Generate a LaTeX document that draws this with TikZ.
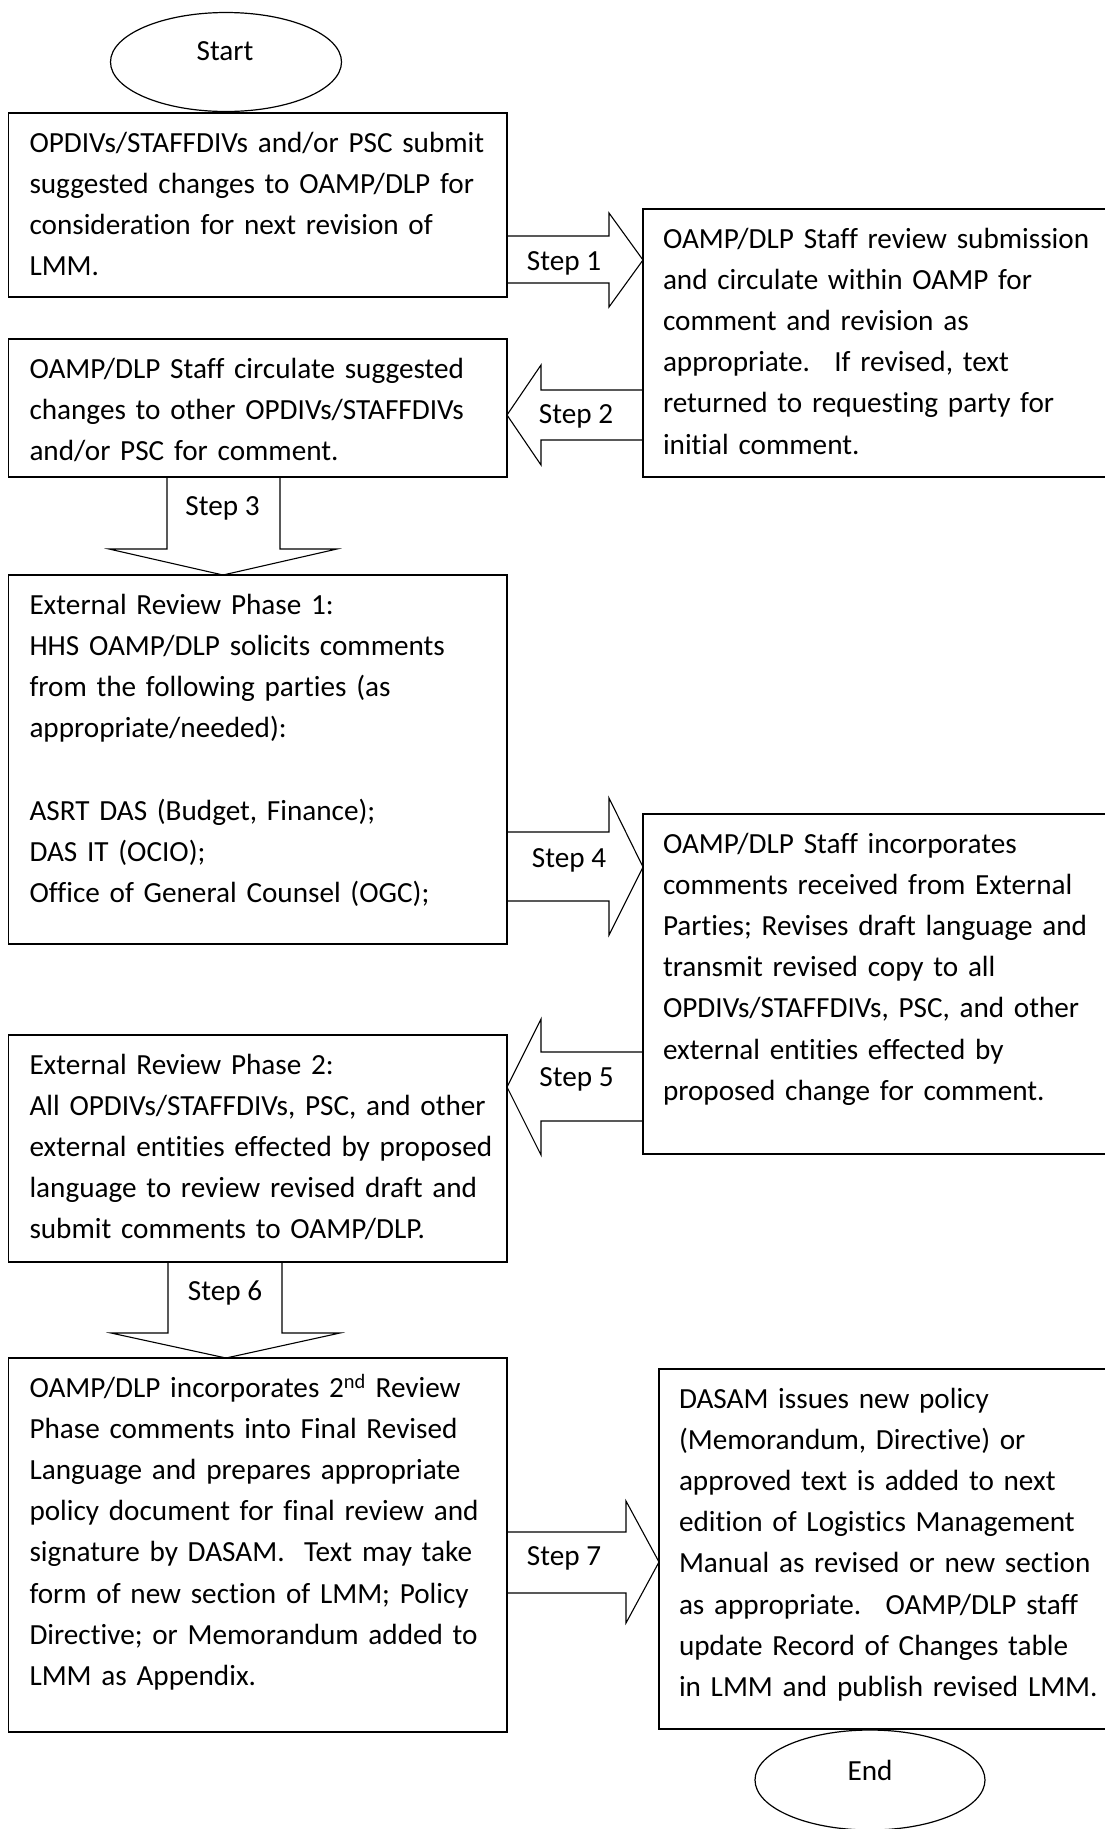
\documentclass[tikz,border=0pt]{standalone}
\usepackage{fontspec}
\setmainfont{Carlito}[Ligatures={NoCommon}]
\usetikzlibrary{shapes.geometric,calc}
\begin{document}
\begin{tikzpicture}[x=1pt,y=-1pt,
  boxn/.style={draw, line width=1.7pt, rectangle, inner sep=0pt, outer sep=0pt, anchor=north west},
  txt/.style={font=\fontsize{29.2}{41.2}\selectfont, inner sep=0pt, outer sep=0pt, anchor=north west, align=left, text width=600pt},
  lbl/.style={font=\fontsize{29.2}{41.2}\selectfont, inner sep=0pt, anchor=base},
  blk/.style={draw, line width=1.1pt, line join=miter},
  oval/.style={draw, ellipse, line width=1.2pt, inner sep=0pt}
]
\useasboundingbox (0,0) rectangle (1104,1829);

% ellipses
\node[oval, minimum width=231pt, minimum height=99pt] (start) at (226,62) {};
\node[lbl] (startlbl) at (225,60) {Start};
\node[oval, minimum width=230pt, minimum height=100pt] (end) at (870,1780) {};
\node[lbl] (endlbl) at (870,1780) {End};

% boxes
\node[boxn, minimum width=498.5pt, minimum height=184pt] (b1) at (8.5,113) {};
\node[boxn, minimum width=470pt, minimum height=268pt] (r1) at (643,209) {};
\node[boxn, minimum width=498.5pt, minimum height=138pt] (b2) at (8.5,339) {};
\node[boxn, minimum width=498.5pt, minimum height=369pt] (b3) at (8.5,575) {};
\node[boxn, minimum width=470pt, minimum height=340pt] (r2) at (643,814) {};
\node[boxn, minimum width=498.5pt, minimum height=227pt] (b4) at (8.5,1035) {};
\node[boxn, minimum width=498.5pt, minimum height=374pt] (b5) at (8.5,1358) {};
\node[boxn, minimum width=453pt, minimum height=360pt] (r3) at (659,1369) {};

% texts
\node[txt] (t1) at ($(b1.north west)+(21,10.2)$) {\strut OPDIVs/STAFFDIVs and/or PSC submit\\
suggested changes to OAMP/DLP for\\
consideration for next revision of\\
LMM.};
\node[txt] (tr1) at ($(r1.north west)+(20,10.2)$) {\strut OAMP/DLP Staff review submission\\
and circulate within OAMP for\\
comment and revision as\\
appropriate.~ If revised, text\\
returned to requesting party for\\
initial comment.};
\node[txt] (t2) at ($(b2.north west)+(21,10.2)$) {\strut OAMP/DLP Staff circulate suggested\\
changes to other OPDIVs/STAFFDIVs\\
and/or PSC for comment.};
\node[txt] (t3) at ($(b3.north west)+(21,10.2)$) {\strut External Review Phase 1:\\
HHS OAMP/DLP solicits comments\\
from the following parties (as\\
appropriate/needed):\\
\mbox{}\\
ASRT DAS (Budget, Finance);\\
DAS IT (OCIO);\\
Office of General Counsel (OGC);};
\node[txt] (tr2) at ($(r2.north west)+(20,10.2)$) {\strut OAMP/DLP Staff incorporates\\
comments received from External\\
Parties; Revises draft language and\\
transmit revised copy to all\\
OPDIVs/STAFFDIVs, PSC, and other\\
external entities effected by\\
proposed change for comment.};
\node[txt] (t4) at ($(b4.north west)+(21,10.2)$) {\strut External Review Phase 2:\\
All OPDIVs/STAFFDIVs, PSC, and other\\
external entities effected by proposed\\
language to review revised draft and\\
submit comments to OAMP/DLP.};
\node[txt] (t5) at ($(b5.north west)+(21,10.2)$) {\strut OAMP/DLP incorporates 2\textsuperscript{nd} Review\\
Phase comments into Final Revised\\
Language and prepares appropriate\\
policy document for final review and\\
signature by DASAM.~ Text may take\\
form of new section of LMM; Policy\\
Directive; or Memorandum added to\\
LMM as Appendix.};
\node[txt] (tr3) at ($(r3.north west)+(20,10.2)$) {\strut DASAM issues new policy\\
(Memorandum, Directive) or\\
approved text is added to next\\
edition of Logistics Management\\
Manual as revised or new section\\
as appropriate.~ OAMP/DLP staff\\
update Record of Changes table\\
in LMM and publish revised LMM.};

% block arrows
\draw[blk] (507,236) -- (609,236) -- (609,213) -- (643,260) -- (609,307) -- (609,283) -- (507,283);
\draw[blk] (643,390) -- (541,390) -- (541,365) -- (507,415) -- (541,465) -- (541,440) -- (643,440);
\draw[blk] (167,477) -- (167,549) -- (109,549) -- (223,575) -- (337,549) -- (280,549) -- (280,477);
\draw[blk] (507,832) -- (609,832) -- (609,798) -- (643,867) -- (609,935) -- (609,901) -- (507,901);
\draw[blk] (643,1052) -- (541,1052) -- (541,1019) -- (507,1087) -- (541,1155) -- (541,1121) -- (643,1121);
\draw[blk] (168,1262) -- (168,1333) -- (111,1333) -- (226,1358) -- (340,1333) -- (282,1333) -- (282,1262);
\draw[blk] (507,1532) -- (626,1532) -- (626,1501) -- (659,1562) -- (626,1623) -- (626,1593) -- (507,1593);

% step labels
\node[lbl] (s1) at (564,270) {Step 1};
\node[lbl] (s2) at (576,423) {Step 2};
\node[lbl] (s3) at (222.5,515) {Step 3};
\node[lbl] (s4) at (569,867) {Step 4};
\node[lbl] (s5) at (576.5,1086) {Step 5};
\node[lbl] (s6) at (225,1300) {Step 6};
\node[lbl] (s7) at (564,1565) {Step 7};
\end{tikzpicture}
\end{document}
